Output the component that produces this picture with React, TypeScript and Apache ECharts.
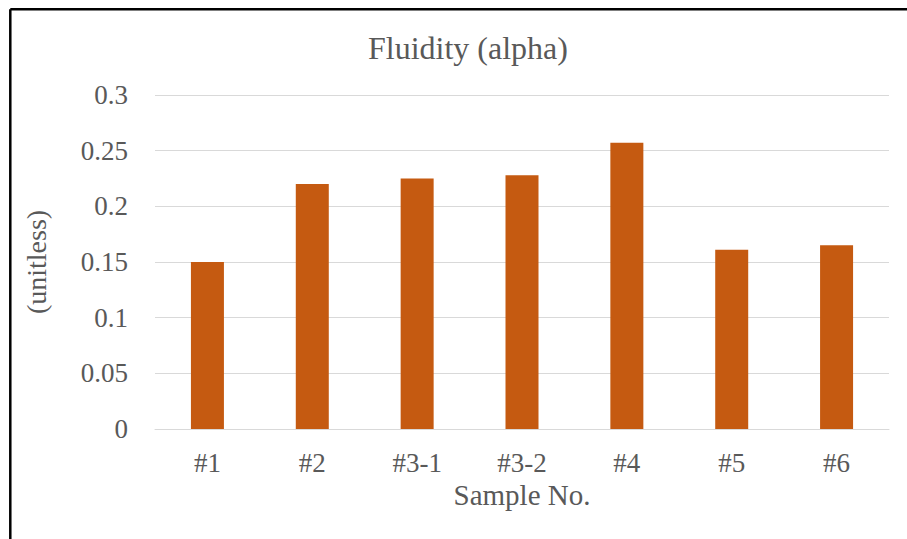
import React, { useEffect, useRef } from "react";
import * as echarts from "echarts";

const categories = ["#1", "#2", "#3-1", "#3-2", "#4", "#5", "#6"];
const fluidity = [0.150, 0.220, 0.225, 0.228, 0.257, 0.161, 0.165];
const titleText = "Fluidity (alpha)";
const xName = "Sample No.";
const yName = "(unitless)";

const FONT = "'Liberation Serif', 'Times New Roman', serif";

export default function App() {
  const ref = useRef<HTMLDivElement>(null);
  useEffect(() => {
    if (!ref.current) return;
    const chart = echarts.init(ref.current, undefined, { renderer: "svg" });
    chart.setOption({
      animation: false,
      backgroundColor: "#ffffff",
      title: {
        text: titleText,
        left: 363,
        top: 27,
        textStyle: { fontFamily: FONT, fontSize: 32, fontWeight: "normal", color: "#595959" },
      },
      grid: { left: 155, right: 18, top: 95, bottom: 110 },
      xAxis: {
        type: "category",
        data: categories,
        name: xName,
        nameLocation: "middle",
        nameGap: 48,
        nameTextStyle: { fontFamily: FONT, fontSize: 29, color: "#595959" },
        axisLine: { show: true, lineStyle: { color: "#d9d9d9", width: 1 } },
        axisTick: { show: false },
        axisLabel: { fontFamily: FONT, fontSize: 27, color: "#595959", margin: 20 },
      },
      yAxis: {
        type: "value",
        min: 0,
        max: 0.3,
        interval: 0.05,
        name: yName,
        nameLocation: "middle",
        nameRotate: 90,
        nameGap: 105,
        nameTextStyle: { fontFamily: FONT, fontSize: 28, color: "#595959" },
        axisLine: { show: false },
        axisTick: { show: false },
        splitLine: { lineStyle: { color: "#d9d9d9", width: 1 } },
        axisLabel: { fontFamily: FONT, fontSize: 27, color: "#595959", margin: 27 },
      },
      series: [
        {
          type: "bar",
          data: fluidity,
          barWidth: 33,
          itemStyle: { color: "#c55a11" },
        },
      ],
      graphic: [
        { type: "line", shape: { x1: 10.3, y1: 9.3, x2: 907, y2: 9.3 }, style: { stroke: "#000", lineWidth: 2.5 } },
        { type: "line", shape: { x1: 10.3, y1: 9.3, x2: 10.3, y2: 539 }, style: { stroke: "#000", lineWidth: 2.5 } },
      ],
    });
    return () => chart.dispose();
  }, []);
  return <div ref={ref} style={{ position: "fixed", left: 0, top: 0, width: 907, height: 539 }} />;
}
